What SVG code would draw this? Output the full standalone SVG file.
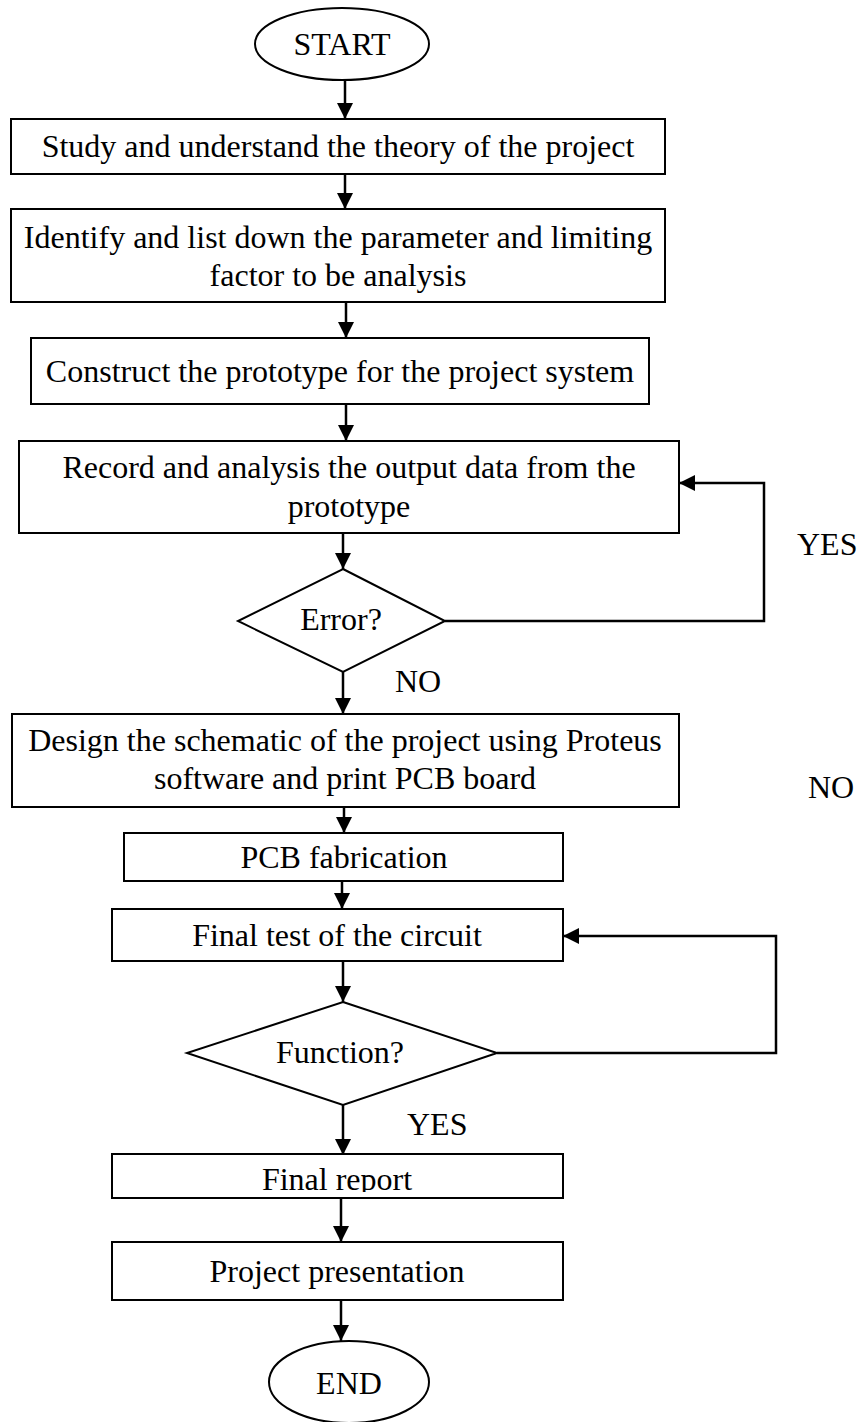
<svg xmlns="http://www.w3.org/2000/svg" width="857" height="1422" viewBox="0 0 857 1422">
<style>
.n{fill:#fff;stroke:#000;stroke-width:2}
.t{font-family:"Liberation Serif","Times New Roman",serif;font-size:32px;fill:#000;text-anchor:middle}
.l{font-family:"Liberation Serif","Times New Roman",serif;font-size:32px;fill:#000}
.c{fill:none;stroke:#000;stroke-width:2.5}
</style>
<defs>
<marker id="ah" markerUnits="userSpaceOnUse" markerWidth="16" markerHeight="16" refX="16" refY="8" orient="auto">
<path d="M0,0 L16,8 L0,16 Z" fill="#000"/>
</marker>
<clipPath id="cr"><rect x="112" y="1154" width="451" height="38"/></clipPath>
</defs>
<rect width="857" height="1422" fill="#fff"/>
<g id="connectors">
<line class="c" x1="345" y1="80" x2="345" y2="119" marker-end="url(#ah)"/>
<line class="c" x1="345" y1="174" x2="345" y2="209" marker-end="url(#ah)"/>
<line class="c" x1="346" y1="302" x2="346" y2="338" marker-end="url(#ah)"/>
<line class="c" x1="346" y1="404" x2="346" y2="441" marker-end="url(#ah)"/>
<line class="c" x1="343" y1="533" x2="343" y2="569" marker-end="url(#ah)"/>
<line class="c" x1="343" y1="672" x2="343" y2="714" marker-end="url(#ah)"/>
<polyline class="c" points="445,621 764,621 764,483 679,483" marker-end="url(#ah)"/>
<line class="c" x1="344" y1="807" x2="344" y2="833" marker-end="url(#ah)"/>
<line class="c" x1="342" y1="881" x2="342" y2="909" marker-end="url(#ah)"/>
<line class="c" x1="343" y1="961" x2="343" y2="1002" marker-end="url(#ah)"/>
<polyline class="c" points="497,1053 776,1053 776,936 563,936" marker-end="url(#ah)"/>
<line class="c" x1="343" y1="1105" x2="343" y2="1155" marker-end="url(#ah)"/>
<line class="c" x1="341" y1="1198" x2="341" y2="1242" marker-end="url(#ah)"/>
<line class="c" x1="341" y1="1300" x2="341" y2="1341" marker-end="url(#ah)"/>
<text class="l" x="797" y="555">YES</text>
<text class="l" x="395" y="692">NO</text>
<text class="l" x="808" y="798">NO</text>
<text class="l" x="407" y="1135">YES</text>
</g>
<g id="start">
<ellipse class="n" cx="342" cy="44" rx="87" ry="36"/>
<text class="t" x="342" y="55">START</text>
</g>
<g id="study">
<rect class="n" x="11" y="119" width="654" height="55"/>
<text class="t" x="338" y="157">Study and understand the theory of the project</text>
</g>
<g id="identify">
<rect class="n" x="11" y="209" width="654" height="93"/>
<text class="t" x="338" y="248">Identify and list down the parameter and limiting</text>
<text class="t" x="338" y="286">factor to be analysis</text>
</g>
<g id="construct">
<rect class="n" x="31" y="338" width="618" height="66"/>
<text class="t" x="340" y="382">Construct the prototype for the project system</text>
</g>
<g id="record">
<rect class="n" x="19" y="441" width="660" height="92"/>
<text class="t" x="349" y="478">Record and analysis the output data from the</text>
<text class="t" x="349" y="517">prototype</text>
</g>
<g id="error">
<polygon class="n" points="343,569 445,621 343,672 238,621"/>
<text class="t" x="341" y="630">Error?</text>
</g>
<g id="design">
<rect class="n" x="12" y="714" width="667" height="93"/>
<text class="t" x="345" y="751">Design the schematic of the project using Proteus</text>
<text class="t" x="345" y="789">software and print PCB board</text>
</g>
<g id="pcb">
<rect class="n" x="124" y="833" width="439" height="48"/>
<text class="t" x="344" y="868">PCB fabrication</text>
</g>
<g id="finaltest">
<rect class="n" x="112" y="909" width="451" height="52"/>
<text class="t" x="337" y="946">Final test of the circuit</text>
</g>
<g id="function">
<polygon class="n" points="343,1002 497,1053 343,1105 187,1053"/>
<text class="t" x="340" y="1063">Function?</text>
</g>
<g id="report">
<rect class="n" x="112" y="1154" width="451" height="44"/>
<text class="t" x="337" y="1190" clip-path="url(#cr)">Final report</text>
</g>
<g id="presentation">
<rect class="n" x="112" y="1242" width="451" height="58"/>
<text class="t" x="337" y="1282">Project presentation</text>
</g>
<g id="end">
<ellipse class="n" cx="349" cy="1382" rx="80" ry="41"/>
<text class="t" x="349" y="1394">END</text>
</g>
</svg>
